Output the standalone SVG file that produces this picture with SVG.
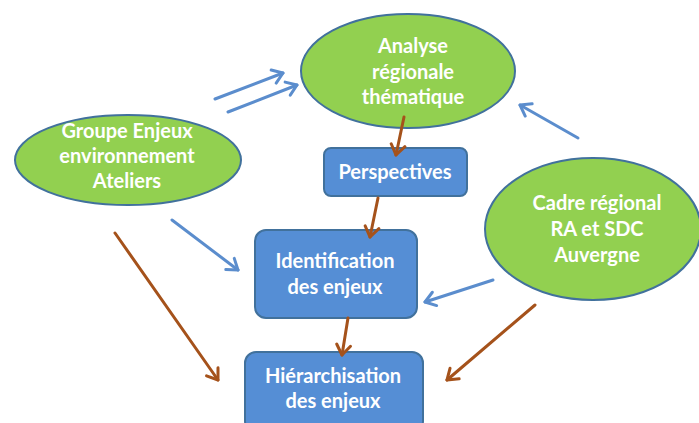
<svg xmlns="http://www.w3.org/2000/svg" width="699" height="423" viewBox="0 0 699 423">
  <style>
    .oval { fill: #92d050; stroke: #41719c; stroke-width: 2; }
    .box { fill: #558ed5; stroke: #41719c; stroke-width: 2; }
    .lbl { font-family: Lato, "Open Sans", "Liberation Sans", sans-serif; font-weight: bold; font-size: 20px; fill: #ffffff; text-anchor: middle; }
    .blue { stroke: #5b8dcd; stroke-width: 3; fill: none; stroke-linecap: round; }
    .brown { stroke: #a5521b; stroke-width: 3; fill: none; stroke-linecap: round; }
  </style>
  <defs>
    <marker id="headBlue" viewBox="-13 -9 15 18" markerWidth="15" markerHeight="18" refX="0" refY="0" orient="auto" markerUnits="userSpaceOnUse">
      <path d="M-10,-7 L0,0 L-10,7" fill="none" stroke="#5b8dcd" stroke-width="3" stroke-linecap="round" stroke-linejoin="round"/>
    </marker>
    <marker id="headBrown" viewBox="-13 -9 15 18" markerWidth="15" markerHeight="18" refX="0" refY="0" orient="auto" markerUnits="userSpaceOnUse">
      <path d="M-10,-7 L0,0 L-10,7" fill="none" stroke="#a5521b" stroke-width="3" stroke-linecap="round" stroke-linejoin="round"/>
    </marker>
  </defs>

  <g id="analyse">
    <ellipse class="oval" cx="408" cy="71" rx="107" ry="57"/>
    <text class="lbl" x="413" y="53">Analyse</text>
    <text class="lbl" x="413" y="79">régionale</text>
    <text class="lbl" x="413" y="104">thématique</text>
  </g>

  <g id="groupe">
    <ellipse class="oval" cx="128" cy="160" rx="113" ry="45"/>
    <text class="lbl" x="127" y="138">Groupe Enjeux</text>
    <text class="lbl" x="127" y="163">environnement</text>
    <text class="lbl" x="127" y="188">Ateliers</text>
  </g>

  <g id="cadre">
    <ellipse class="oval" cx="593" cy="229" rx="108" ry="71"/>
    <text class="lbl" x="597" y="210">Cadre régional</text>
    <text class="lbl" x="597" y="236">RA et SDC</text>
    <text class="lbl" x="597" y="262">Auvergne</text>
  </g>

  <g id="perspectives">
    <rect class="box" x="324" y="148" width="143" height="48" rx="7"/>
    <text class="lbl" x="395" y="179">Perspectives</text>
  </g>

  <g id="identification">
    <rect class="box" x="255" y="230" width="162" height="88" rx="11"/>
    <text class="lbl" x="335" y="268">Identification</text>
    <text class="lbl" x="335" y="294">des enjeux</text>
  </g>

  <g id="hierarchisation">
    <rect class="box" x="245" y="352" width="178" height="80" rx="11"/>
    <text class="lbl" x="333" y="383">Hiérarchisation</text>
    <text class="lbl" x="333" y="408">des enjeux</text>
  </g>

  <g id="connectors">
    <line class="blue" x1="215" y1="99" x2="283" y2="73" marker-end="url(#headBlue)"/>
    <line class="blue" x1="228" y1="112" x2="297" y2="85" marker-end="url(#headBlue)"/>
    <line class="blue" x1="578" y1="138" x2="520" y2="105" marker-end="url(#headBlue)"/>
    <line class="blue" x1="172" y1="220" x2="238" y2="270" marker-end="url(#headBlue)"/>
    <line class="blue" x1="493" y1="280" x2="425" y2="302" marker-end="url(#headBlue)"/>
    <line class="brown" x1="404" y1="117" x2="396" y2="155" marker-end="url(#headBrown)"/>
    <line class="brown" x1="378" y1="198" x2="370" y2="237" marker-end="url(#headBrown)"/>
    <line class="brown" x1="348" y1="318" x2="342" y2="355" marker-end="url(#headBrown)"/>
    <line class="brown" x1="115" y1="233" x2="218" y2="380" marker-end="url(#headBrown)"/>
    <line class="brown" x1="535" y1="305" x2="447" y2="380" marker-end="url(#headBrown)"/>
  </g>
</svg>
